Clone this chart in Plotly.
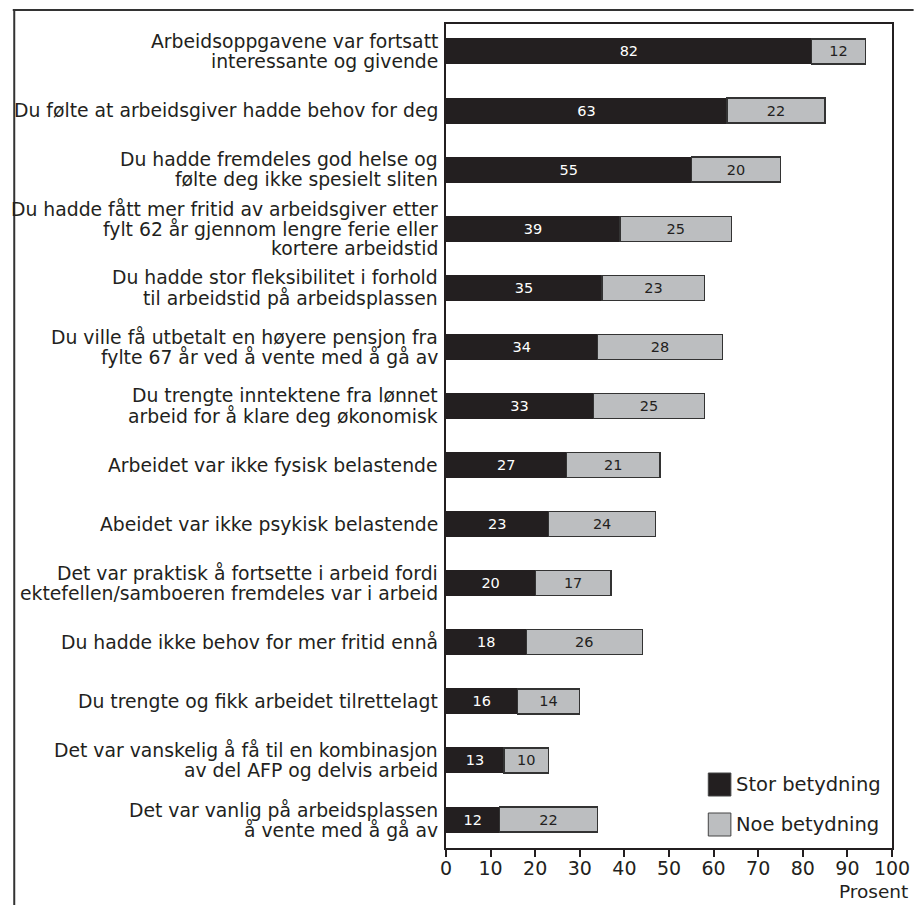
import plotly.graph_objects as go

categories = [
    "Arbeidsoppgavene var fortsatt<br>interessante og givende",
    "Du følte at arbeidsgiver hadde behov for deg",
    "Du hadde fremdeles god helse og<br>følte deg ikke spesielt sliten",
    "Du hadde fått mer fritid av arbeidsgiver etter<br>fylt 62 år gjennom lengre ferie eller<br>kortere arbeidstid",
    "Du hadde stor fleksibilitet i forhold<br>til arbeidstid på arbeidsplassen",
    "Du ville få utbetalt en høyere pensjon fra<br>fylte 67 år ved å vente med å gå av",
    "Du trengte inntektene fra lønnet<br>arbeid for å klare deg økonomisk",
    "Arbeidet var ikke fysisk belastende",
    "Abeidet var ikke psykisk belastende",
    "Det var praktisk å fortsette i arbeid fordi<br>ektefellen/samboeren fremdeles var i arbeid",
    "Du hadde ikke behov for mer fritid ennå",
    "Du trengte og fikk arbeidet tilrettelagt",
    "Det var vanskelig å få til en kombinasjon<br>av del AFP og delvis arbeid",
    "Det var vanlig på arbeidsplassen<br>å vente med å gå av",
]
stor = [82, 63, 55, 39, 35, 34, 33, 27, 23, 20, 18, 16, 13, 12]
noe = [12, 22, 20, 25, 23, 28, 25, 21, 24, 17, 26, 14, 10, 22]
series_names = ["Stor betydning", "Noe betydning"]
x_ticks = list(range(0, 101, 10))
x_title = "Prosent"

BLACK = "#231f20"
GREY = "#bcbec0"
FONT = "DejaVu Sans"

fig = go.Figure()
fig.add_trace(go.Bar(
    y=categories, x=stor, orientation="h", name=series_names[0],
    marker=dict(color=BLACK, line=dict(color=BLACK, width=1)),
    text=stor, textposition="inside", insidetextanchor="middle", textangle=0,
    textfont=dict(color="white", size=14.5, family=FONT), showlegend=False,
))
fig.add_trace(go.Bar(
    y=categories, x=noe, orientation="h", name=series_names[1],
    marker=dict(color=GREY, line=dict(color="#333333", width=1.3)),
    text=noe, textposition="inside", insidetextanchor="middle", textangle=0,
    textfont=dict(color=BLACK, size=14.5, family=FONT), showlegend=False,
))

L, R, T, B = 446, 22, 24, 57
W, H = 922, 905
pw, ph = W - L - R, H - T - B


def px(xp):
    return (xp - L) / pw


def py(yp):
    return (H - B - yp) / ph


shapes = [
    dict(type="line", xref="paper", yref="paper", x0=px(5), x1=px(922), y0=py(10), y1=py(10),
         line=dict(color="#333", width=2)),
    dict(type="line", xref="paper", yref="paper", x0=px(6.5), x1=px(6.5), y0=py(9), y1=py(905),
         line=dict(color="#333", width=2)),
]
annotations = []

# category labels, one annotation per line for tight leading
LINE_H = 20
for cat in categories:
    lines = cat.split("<br>")
    n = len(lines)
    for k, ln in enumerate(lines):
        annotations.append(dict(
            xref="paper", yref="y", x=px(440), y=cat, text=ln, showarrow=False,
            xanchor="right", yanchor="middle",
            yshift=-((k - (n - 1) / 2) * LINE_H),
            font=dict(size=18.8, color=BLACK, family=FONT)))

legend_colors = [BLACK, GREY]
legend_y = [784.5, 824.5]
for name, col, yc in zip(series_names, legend_colors, legend_y):
    shapes.append(dict(type="rect", xref="paper", yref="paper",
                       x0=px(713), x1=px(736), y0=py(yc - 11.5), y1=py(yc + 11.5),
                       fillcolor=col, line=dict(color="#444", width=1)))
    annotations.append(dict(xref="paper", yref="paper", x=px(739), y=py(yc), text=name,
                            showarrow=False, xanchor="left", yanchor="middle",
                            font=dict(size=19.5, color=BLACK, family=FONT)))
annotations.append(dict(xref="paper", yref="paper", x=px(918), y=py(891), text=x_title,
                        showarrow=False, xanchor="right", yanchor="middle",
                        font=dict(size=18.5, color=BLACK, family=FONT)))

fig.update_layout(
    barmode="stack", bargap=0.577,
    width=W, height=H, margin=dict(l=L, r=R, t=T, b=B),
    paper_bgcolor="white", plot_bgcolor="white",
    font=dict(family=FONT, color=BLACK),
    shapes=shapes, annotations=annotations,
)
fig.update_xaxes(range=[0, 100], tickvals=x_ticks, ticks="outside", ticklen=7, tickcolor=BLACK,
                 tickwidth=1.5, showline=True, linecolor=BLACK, linewidth=2, mirror=True,
                 showgrid=False, zeroline=False, ticklabelstandoff=-5,
                 tickfont=dict(size=19, family=FONT, color=BLACK))
fig.update_yaxes(range=[13.482, -0.465], showline=True, linecolor=BLACK, linewidth=2, mirror=True,
                 showgrid=False, ticks="", showticklabels=False)

fig.write_html("out.html", config={"displayModeBar": False},
               post_script="document.body.style.margin='0px';")
